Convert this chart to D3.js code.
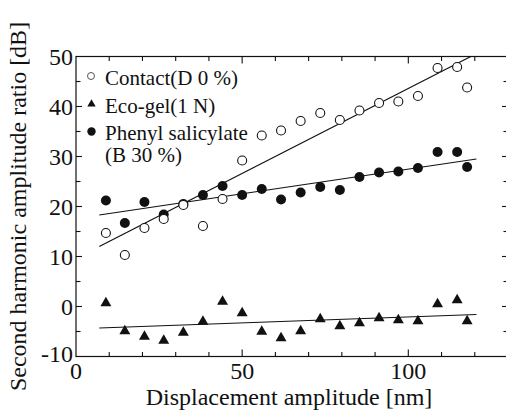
<!DOCTYPE html>
<html>
<head>
<meta charset="utf-8">
<script src="https://cdn.jsdelivr.net/npm/d3@7"></script>
<style>
  body { margin: 0; background: #fff; }
  svg { display: block; }
</style>
</head>
<body>
<div id="chart"></div>
<script>
// displacement amplitude [nm] for each measurement
const displacement = [9, 14.7, 20.6, 26.4, 32.3, 38.2, 44.1, 50, 55.9, 61.7, 67.6, 73.5, 79.4, 85.3, 91.2, 97, 102.9, 108.8, 114.7, 117.7]

// second harmonic amplitude ratio [dB]
const contact = [14.7, 10.3, 15.7, 17.5, 20.3, 16.1, 21.5, 29.2, 34.2, 35.2, 37.1, 38.7, 37.3, 39.2, 40.7, 41, 42.1, 47.7, 47.9, 43.8]
const ecoGel = [0.9, -4.7, -5.8, -6.6, -5, -2.8, 1.2, -1.1, -4.8, -6.1, -4.7, -2.3, -3.7, -3.1, -2.1, -2.5, -2.7, 0.7, 1.5, -2.7]
const phenyl = [21.2, 16.7, 20.9, 18.4, 20.5, 22.3, 24.1, 22.3, 23.5, 21.4, 22.8, 23.9, 23.3, 25.9, 26.8, 27, 27.7, 30.9, 30.9, 27.9]

// fitted lines: [x0, y0, x1, y1]
const contactFit = [7, 12, 118.8, 50]
const ecoGelFit = [7, -4.3, 120.5, -1.6]
const phenylFit = [7, 18.3, 120.5, 29.5]

const xTicks = [0, 50, 100]
const yTicks = [-10, 0, 10, 20, 30, 40, 50]

const legendLabels = ['Contact(D 0 %)', 'Eco-gel(1 N)', 'Phenyl salicylate', '(B 30 %)']

const W = 506, H = 413
const margin = { top: 56.5, right: -2, bottom: 56.5, left: 76 }
const INK = '#111'
const FONT = "'Liberation Serif', 'Times New Roman', 'DejaVu Serif', serif"

const x = d3.scaleLinear().domain([0, 130]).range([margin.left, W - margin.right])
const y = d3.scaleLinear().domain([-10, 50]).range([H - margin.bottom, margin.top])

const svg = d3.select('#chart').append('svg')
  .attr('width', W)
  .attr('height', H)
  .attr('font-family', FONT)
  .style('font-family', FONT)

// frame
svg.append('rect')
  .attr('x', x(0)).attr('y', y(50))
  .attr('width', x(130) - x(0)).attr('height', y(-10) - y(50))
  .attr('fill', 'none').attr('stroke', INK).attr('stroke-width', 1.2)

// inward ticks on all four sides
const xMinor = d3.range(10, 130, 10)
const yMinor = d3.range(-5, 50, 5)
const tickLen = v => (v % 50 === 0 ? 7 : 4.5)
const yTickLen = v => (v % 10 === 0 ? 6 : 4.5)

const ticks = svg.append('g').attr('stroke', INK).attr('stroke-width', 1.1)
ticks.selectAll('.xb').data(xMinor).join('line')
  .attr('x1', d => x(d)).attr('x2', d => x(d))
  .attr('y1', y(-10)).attr('y2', d => y(-10) - tickLen(d))
ticks.selectAll('.xt').data(xMinor).join('line')
  .attr('x1', d => x(d)).attr('x2', d => x(d))
  .attr('y1', y(50)).attr('y2', d => y(50) + tickLen(d))
ticks.selectAll('.yl').data(yMinor).join('line')
  .attr('y1', d => y(d)).attr('y2', d => y(d))
  .attr('x1', x(0)).attr('x2', d => x(0) + yTickLen(d))
ticks.selectAll('.yr').data(yMinor).join('line')
  .attr('y1', d => y(d)).attr('y2', d => y(d))
  .attr('x1', x(130)).attr('x2', d => x(130) - yTickLen(d))

// tick labels
svg.append('g').selectAll('text').data(yTicks).join('text')
  .attr('x', x(0) - 3)
  .attr('y', d => y(d) + (d === -10 ? -3 : 0))
  .attr('dy', '0.35em')
  .attr('text-anchor', 'end')
  .attr('font-size', 24)
  .attr('fill', INK)
  .text(d => d)

svg.append('g').selectAll('text').data(xTicks).join('text')
  .attr('x', d => x(d))
  .attr('y', y(-10) + 22)
  .attr('text-anchor', 'middle')
  .attr('font-size', 24)
  .attr('fill', INK)
  .text(d => d)

// axis titles
svg.append('text')
  .attr('x', (x(0) + x(130)) / 2 - 3)
  .attr('y', 405)
  .attr('text-anchor', 'middle')
  .attr('font-size', 24)
  .attr('fill', INK)
  .text('Displacement amplitude [nm]')

svg.append('text')
  .attr('transform', `translate(26,${(y(50) + y(-10)) / 2}) rotate(-90)`)
  .attr('text-anchor', 'middle')
  .attr('font-size', 24)
  .attr('fill', INK)
  .text('Second harmonic amplitude ratio [dB]')

// fit lines
const fits = [contactFit, ecoGelFit, phenylFit]
svg.append('g').selectAll('line').data(fits).join('line')
  .attr('x1', d => x(d[0])).attr('y1', d => y(d[1]))
  .attr('x2', d => x(d[2])).attr('y2', d => y(d[3]))
  .attr('stroke', INK).attr('stroke-width', 1.2)

// markers
const tri = d3.symbol().type(d3.symbolTriangle)

svg.append('g').selectAll('path').data(ecoGel).join('path')
  .attr('d', tri.size(52)())
  .attr('transform', (d, i) => `translate(${x(displacement[i])},${y(d) + 1})`)
  .attr('fill', INK)

svg.append('g').selectAll('circle').data(phenyl).join('circle')
  .attr('cx', (d, i) => x(displacement[i])).attr('cy', d => y(d))
  .attr('r', 5).attr('fill', INK)

svg.append('g').selectAll('circle').data(contact).join('circle')
  .attr('cx', (d, i) => x(displacement[i])).attr('cy', d => y(d))
  .attr('r', 4.5).attr('fill', '#fff').attr('stroke', INK).attr('stroke-width', 1.1)

// legend
const lg = svg.append('g')
lg.append('circle').attr('cx', 91).attr('cy', 76).attr('r', 3.5)
  .attr('fill', '#fff').attr('stroke', '#555').attr('stroke-width', 1)
lg.append('path').attr('d', tri.size(30)()).attr('transform', 'translate(91.5,104)').attr('fill', INK)
lg.append('circle').attr('cx', 91.5).attr('cy', 131.5).attr('r', 4.2).attr('fill', INK)

const legendY = [85, 112.5, 140, 162]
lg.selectAll('text').data(legendLabels).join('text')
  .attr('x', 105)
  .attr('y', (d, i) => legendY[i])
  .attr('font-size', 21)
  .attr('fill', INK)
  .text(d => d)
</script>
</body>
</html>
